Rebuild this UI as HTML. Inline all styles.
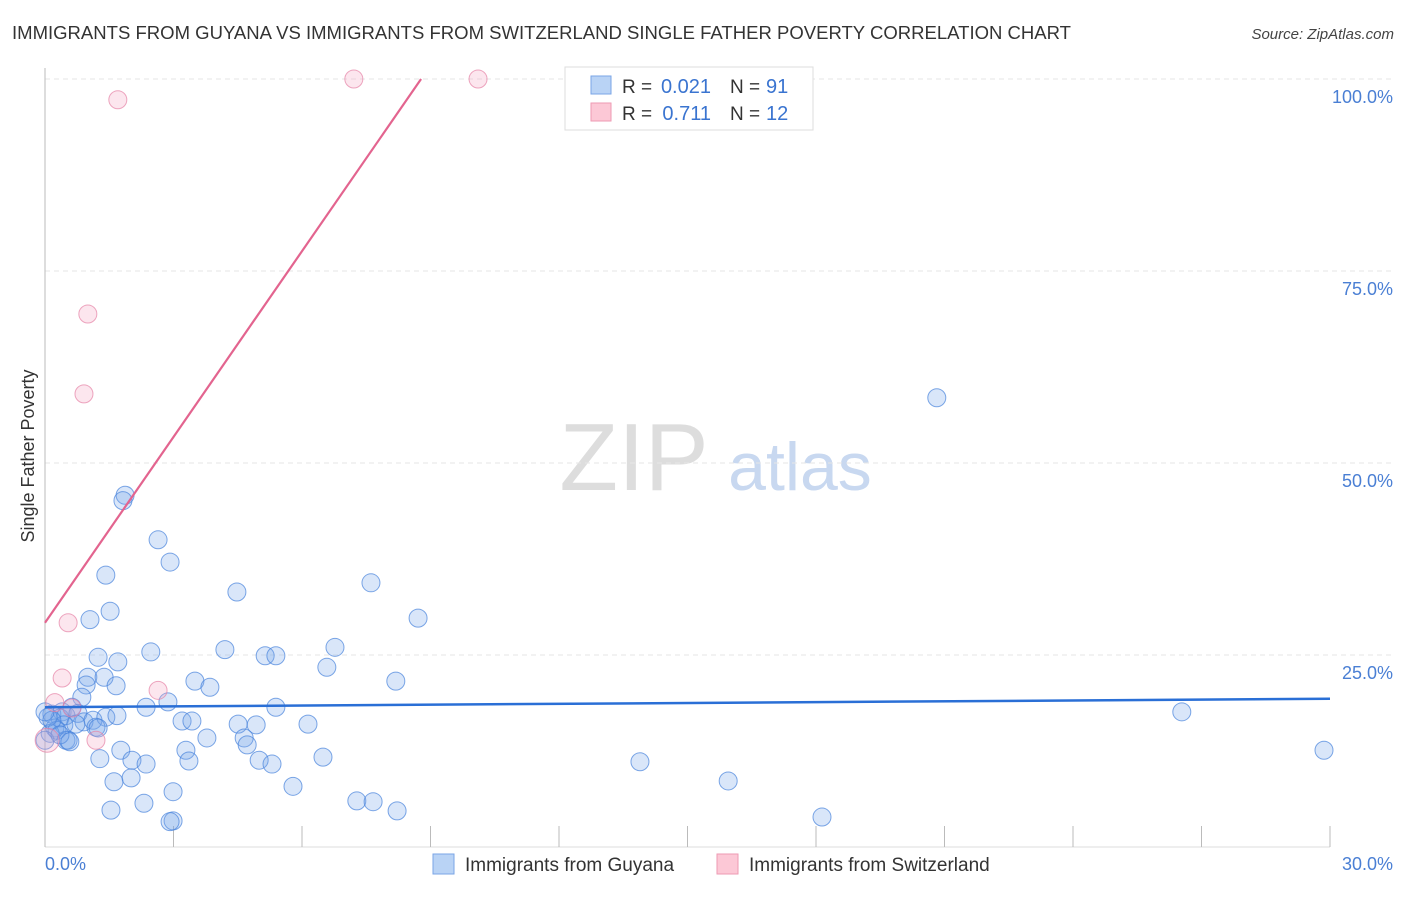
<!DOCTYPE html>
<html><head><meta charset="utf-8"><style>
body{margin:0;background:#fff;font-family:"Liberation Sans",sans-serif;}
svg text{font-family:"Liberation Sans",sans-serif;}
</style></head><body>
<svg id="chart" width="1406" height="892" viewBox="0 0 1406 892" xmlns="http://www.w3.org/2000/svg">
<text x="12" y="39" font-size="18" fill="#333" textLength="1059" lengthAdjust="spacingAndGlyphs">IMMIGRANTS FROM GUYANA VS IMMIGRANTS FROM SWITZERLAND SINGLE FATHER POVERTY CORRELATION CHART</text>
<text x="1394" y="39" font-size="15" fill="#444" text-anchor="end" font-style="italic">Source: ZipAtlas.com</text>
<text x="634" y="490" font-size="96" fill="#ddd" text-anchor="middle" font-family="Liberation Serif">ZIP</text>
<text x="800" y="490" font-size="68" fill="#c8d8f0" text-anchor="middle">atlas</text>
<g id="grid"></g>
<g id="axes"></g>
<g id="marks"></g>
<g id="trends"></g>
<text transform="translate(34,456) rotate(-90)" font-size="18" fill="#333" text-anchor="middle">Single Father Poverty</text>
<text x="45" y="870" font-size="18" fill="#4a7fd4">0.0%</text>
<text x="1393" y="870" font-size="18" fill="#4a7fd4" text-anchor="end">30.0%</text>
<g>
<rect x="565" y="67" width="248" height="63" fill="#fff" stroke="#ddd"/>
<rect x="591" y="76" width="20" height="18" fill="#b9d3f5" stroke="#7aa5e6"/>
<rect x="591" y="103" width="20" height="18" fill="#fcc8d6" stroke="#ee9ab3"/>
<text x="622" y="93" font-size="19" fill="#333">R =</text>
<text x="711" y="93" font-size="20" fill="#3a74d0" text-anchor="end">0.021</text>
<text x="730" y="93" font-size="19" fill="#333">N =</text>
<text x="766" y="93" font-size="20" fill="#3a74d0">91</text>
<text x="622" y="120" font-size="19" fill="#333">R =</text>
<text x="711" y="120" font-size="20" fill="#3a74d0" text-anchor="end">0.711</text>
<text x="730" y="120" font-size="19" fill="#333">N =</text>
<text x="766" y="120" font-size="20" fill="#3a74d0">12</text>
</g>
<g>
<rect x="433" y="854" width="21" height="20" fill="#b9d3f5" stroke="#7aa5e6"/>
<text x="465" y="871" font-size="19" fill="#333">Immigrants from Guyana</text>
<rect x="717" y="854" width="21" height="20" fill="#fcc8d6" stroke="#ee9ab3"/>
<text x="749" y="871" font-size="19" fill="#333">Immigrants from Switzerland</text>
</g>
</svg>
<script>
const yTicks=[25,50,75,100];
const yTickLabels=["25.0%","50.0%","75.0%","100.0%"];
const xTicks=[0,3,6,9,12,15,18,21,24,27,30];
const guyanaX=[1.87,1.82,2.64,2.92,1.42,1.52,4.48,7.61,8.71,1.05,2.47,4.20,5.14,5.39,6.77,6.58,1.24,1.70,1.00,1.38,0.96,1.66,3.50,3.85,8.19,0.86,2.87,2.36,5.39,0.40,0.63,0.16,0.35,0.49,0.77,0.91,1.12,1.42,1.68,3.20,3.43,4.51,4.93,6.14,0.23,0.44,0.72,1.19,1.24,0.12,0.28,3.78,4.65,4.72,0.49,0.54,1.77,3.29,1.28,2.03,2.36,3.36,5.00,5.30,6.49,13.89,1.61,2.01,5.79,15.95,26.54,20.82,29.86,1.54,2.31,2.99,2.99,2.92,7.28,7.66,8.22,18.14,0.0,0.07,0.16,0.35,0.58,0.0];
const guyanaY=[45.8,45.1,40.0,37.1,35.4,30.7,33.2,34.4,29.8,29.6,25.4,25.7,24.9,24.9,26.0,23.4,24.7,24.1,22.1,22.1,21.1,21.0,21.6,20.8,21.6,19.5,18.9,18.2,18.2,17.6,18.2,17.3,16.8,17.1,17.4,16.3,16.5,16.9,17.1,16.4,16.4,16.0,15.9,16.0,15.5,15.9,16.0,15.6,15.5,14.8,15.2,14.2,14.2,13.3,13.9,13.9,12.6,12.6,11.5,11.3,10.8,11.2,11.3,10.8,11.7,11.1,8.5,9.0,7.9,8.6,17.6,58.5,12.6,4.8,5.7,7.2,3.4,3.3,6.0,5.9,4.7,3.9,13.9,16.9,16.5,14.6,13.7,17.6];
const swissX=[1.70,7.21,10.11,1.00,0.91,0.54,0.40,2.64,0.23,1.19,0.05,0.63];
const swissY=[97.3,100,100,69.4,59.0,29.2,22.0,20.4,18.8,13.9,13.9,18.1];
const guyanaTrend=[[0,18.2],[30,19.3]];
const swissTrend=[[0,29.2],[8.78,100]];
const NS="http://www.w3.org/2000/svg";
const X0=45,X1=1330,Y0=847,Y1=79;
function sx(v){return X0+(v/30)*(X1-X0);}
function sy(v){return Y0-(v/100)*(Y0-Y1);}
function mk(t,a,p){const e=document.createElementNS(NS,t);for(const k in a)e.setAttribute(k,a[k]);p.appendChild(e);return e;}
const grid=document.getElementById('grid'),axes=document.getElementById('axes'),marks=document.getElementById('marks'),trends=document.getElementById('trends');
yTicks.forEach((t,i)=>{
 const l=mk('line',{x1:X0,x2:1393,y1:sy(t),y2:sy(t),stroke:'#e6e6e6','stroke-dasharray':'5,4'},grid);
 
 
 const tx=mk('text',{x:1393,y:sy(t)+24,'font-size':18,fill:'#4a7fd4','text-anchor':'end'},grid);
 tx.textContent=yTickLabels[i];
 
 
});
const ya=mk('line',{x1:X0,x2:X0,y1:68,y2:Y0,stroke:'#bbb'},axes);


const xa=mk('line',{x1:X0,x2:X1,y1:Y0,y2:Y0,stroke:'#ddd'},axes);


xTicks.forEach(t=>{
 const l=mk('line',{x1:sx(t),x2:sx(t),y1:826,y2:Y0,stroke:'#bbb'},axes);
 
 
});
guyanaX.forEach((v,i)=>{
 const c=mk('circle',{cx:sx(v),cy:sy(guyanaY[i]),r:9,fill:'rgba(120,165,235,0.28)',stroke:'rgba(70,130,220,0.7)','stroke-width':1},marks);
 
 
});
swissX.forEach((v,i)=>{
 const c=mk('circle',{cx:sx(v),cy:sy(swissY[i]),r:i==10?12:9,fill:'rgba(245,165,195,0.28)',stroke:'rgba(230,130,165,0.7)','stroke-width':1},marks);
 
 
});
const bl=mk('line',{x1:sx(guyanaTrend[0][0]),y1:sy(guyanaTrend[0][1]),x2:sx(guyanaTrend[1][0]),y2:sy(guyanaTrend[1][1]),stroke:'#2a6fd6','stroke-width':2.5},trends);


const pl=mk('line',{x1:sx(swissTrend[0][0]),y1:sy(swissTrend[0][1]),x2:sx(swissTrend[1][0]),y2:sy(swissTrend[1][1]),stroke:'#e3648f','stroke-width':2.2},trends);


</script>
</body></html>
